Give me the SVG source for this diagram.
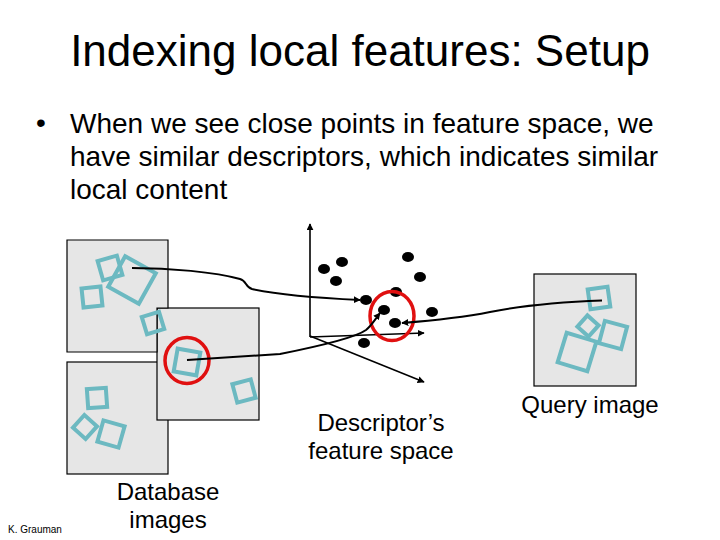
<svg xmlns="http://www.w3.org/2000/svg" width="720" height="540" viewBox="0 0 720 540">
<defs>
<style>
text{font-family:"Liberation Sans",Arial,sans-serif;fill:#000}
.img{fill:#e6e6e6;stroke:#000;stroke-width:1.2}
.sq{fill:none;stroke:#6cb9c1;stroke-width:4}
.ring{fill:none;stroke:#e01010;stroke-width:3.5}
.conn{fill:none;stroke:#000;stroke-width:2}
.axis{fill:none;stroke:#000;stroke-width:1.6}
.dot{fill:#000}
.lbl{font-size:24px;text-anchor:middle}
</style>
<marker id="arr" viewBox="0 0 10 10" refX="9" refY="5" markerWidth="7" markerHeight="7" markerUnits="userSpaceOnUse" orient="auto">
<path d="M0,0 L10,5 L0,10 Z" fill="#000"/>
</marker>
</defs>
<rect width="720" height="540" fill="#fff"/>

<text x="360" y="66" font-size="44" text-anchor="middle">Indexing local features: Setup</text>
<g id="bullet">
<text x="36" y="132" font-size="28">•</text>
<text x="70" y="133" font-size="28">When we see close points in feature space, we</text>
<text x="70" y="166" font-size="28">have similar descriptors, which indicates similar</text>
<text x="70" y="199" font-size="28">local content</text>
</g>

<g id="db-image-3">
<rect class="img" x="67" y="362" width="101" height="112"/>
<rect class="sq" x="-9.5" y="-9.5" width="19" height="19" transform="translate(97,398) rotate(-4)"/>
<rect class="sq" x="-8.5" y="-8.5" width="17" height="17" transform="translate(85,427) rotate(42)"/>
<rect class="sq" x="-11" y="-11" width="22" height="22" transform="translate(111,434) rotate(16)"/>
</g>
<g id="db-image-2">
<rect class="img" x="157" y="308" width="102" height="112"/>
<rect class="sq" x="-11.5" y="-11.5" width="23" height="23" transform="translate(187,362) rotate(10)"/>
<rect class="sq" x="-9.5" y="-9.5" width="19" height="19" transform="translate(244,391) rotate(-15)"/>
<ellipse class="ring" cx="187" cy="360.5" rx="22" ry="23"/>
</g>
<g id="db-image-1">
<polygon class="img" points="67,240 168,240 168,308 157,308 157,352 67,352"/>
<rect class="sq" x="-10" y="-10" width="20" height="20" transform="translate(110,268) rotate(-16)"/>
<rect class="sq" x="-17.5" y="-17.5" width="35" height="35" transform="translate(132,280) rotate(29)"/>
<rect class="sq" x="-9.5" y="-9.5" width="19" height="19" transform="translate(92,297) rotate(-6)"/>
<rect class="sq" x="-9" y="-9" width="18" height="18" transform="translate(153,323) rotate(-17)"/>
</g>

<g id="query-image">
<rect class="img" x="534" y="274" width="102" height="112"/>
<rect class="sq" x="-10" y="-10" width="20" height="20" transform="translate(599,298) rotate(-8)"/>
<rect class="sq" x="-7.5" y="-7.5" width="15" height="15" transform="translate(588,326) rotate(42)"/>
<rect class="sq" x="-11.5" y="-11.5" width="23" height="23" transform="translate(613,335) rotate(15)"/>
<rect class="sq" x="-15.5" y="-15.5" width="31" height="31" transform="translate(577,352) rotate(17)"/>
</g>

<g id="feature-space">
<line class="axis" x1="310" y1="337" x2="310" y2="224" marker-end="url(#arr)"/>
<line class="axis" x1="310" y1="337" x2="424" y2="333" marker-end="url(#arr)"/>
<line class="axis" x1="310" y1="336" x2="424" y2="382" marker-end="url(#arr)"/>
<ellipse class="dot" cx="324" cy="269" rx="6" ry="5"/>
<ellipse class="dot" cx="342" cy="262" rx="6" ry="5"/>
<ellipse class="dot" cx="336" cy="281" rx="6" ry="5"/>
<ellipse class="dot" cx="408" cy="257" rx="6" ry="5"/>
<ellipse class="dot" cx="420" cy="277" rx="6" ry="5"/>
<ellipse class="dot" cx="396" cy="292" rx="6" ry="5"/>
<ellipse class="dot" cx="366" cy="300" rx="6" ry="5"/>
<ellipse class="dot" cx="384" cy="310" rx="6" ry="5"/>
<ellipse class="dot" cx="395" cy="323" rx="6" ry="5"/>
<ellipse class="dot" cx="432" cy="312" rx="6" ry="5"/>
<ellipse class="dot" cx="364" cy="343" rx="6" ry="5"/>
<ellipse class="ring" cx="392" cy="316" rx="22" ry="24.5"/>
</g>

<g id="connectors">
<path class="conn" d="M132,268 C170,268 215,272 240,279 C247,281 245,287 252,289 C280,295 320,298 360,300" marker-end="url(#arr)"/>
<path class="conn" d="M187,360 L280,354 C320,346 355,338 366,330 C372,325 376,318 380,313" marker-end="url(#arr)"/>
<path class="conn" d="M602,300.5 C560,302 520,306 490,312 C470,316 440,320 402,323" marker-end="url(#arr)"/>
</g>

<g id="labels">
<text class="lbl" x="381" y="431">Descriptor’s</text>
<text class="lbl" x="381" y="459">feature space</text>
<text class="lbl" x="590" y="413">Query image</text>
<text class="lbl" x="168" y="500">Database</text>
<text class="lbl" x="168" y="528">images</text>
<text x="8" y="533" font-size="10">K. Grauman</text>
</g>
</svg>
